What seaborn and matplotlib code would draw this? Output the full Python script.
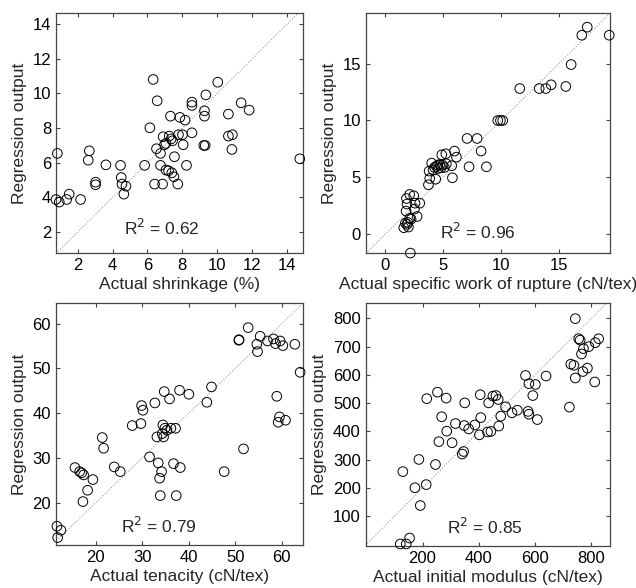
"""Regression output vs actual values for four yarn properties."""

import matplotlib

matplotlib.use("Agg")
import matplotlib.pyplot as plt
import numpy as np
import seaborn as sns


sns.set_style("ticks")
plt.rcParams["font.family"] = ["Liberation Sans", "DejaVu Sans"]
plt.rcParams.update(
    {
        "xtick.direction": "in",
        "ytick.direction": "in",
        "xtick.top": True,
        "ytick.right": True,
        "xtick.major.size": 3,
        "ytick.major.size": 3,
        "axes.linewidth": 0.9,
        "axes.edgecolor": "#444444",
    }
)

# Shrinkage (%)
shrink_actual = [
    0.84, 0.76, 0.95, 1.37, 1.52, 2.17, 2.67, 2.61, 3.03, 3.03, 3.62, 4.46,
    4.50, 4.54, 4.65, 4.77, 5.84, 6.14, 6.33, 6.56, 6.52, 6.41, 6.75, 6.75,
    6.87, 6.90, 6.98, 7.06, 7.06, 7.21, 7.36, 7.32, 7.44, 7.55, 7.52, 7.40,
    7.74, 7.78, 7.86, 8.01, 8.05, 8.16, 8.24, 8.55, 8.55, 8.55, 9.23, 9.31,
    9.27, 9.27, 9.35, 10.03, 10.64, 10.64, 10.87, 10.84, 11.37, 11.83, 14.73,
    7.25,
]
shrink_pred = [
    6.54, 3.88, 3.73, 3.88, 4.19, 3.88, 6.69, 6.15, 4.88, 4.73, 5.88, 5.85,
    5.15, 4.77, 4.19, 4.65, 5.85, 8.02, 10.81, 9.58, 6.81, 4.77, 6.54, 5.85,
    4.77, 7.50, 7.04, 7.12, 5.58, 5.54, 7.38, 8.69, 7.27, 6.35, 5.19, 5.42,
    4.77, 7.62, 8.62, 7.62, 7.04, 8.46, 5.85, 7.73, 9.31, 9.50, 7.00, 7.00,
    8.69, 9.00, 9.92, 10.65, 8.81, 7.54, 7.62, 6.77, 9.46, 9.04, 6.23,
    7.54,
]

# Specific work of rupture (cN/tex)
work_actual = [
    1.59, 1.73, 1.87, 1.93, 1.99, 1.79, 1.82, 1.87, 2.10, 2.16, 2.22, 2.45,
    2.51, 2.56, 2.74, 2.97, 2.10, 3.72, 3.78, 3.83, 4.00, 4.12, 4.24, 4.35,
    4.41, 4.52, 4.58, 4.70, 4.81, 4.93, 4.87, 5.10, 5.22, 5.27, 5.73, 5.79,
    5.97, 6.14, 7.06, 7.23, 7.93, 8.27, 8.73, 9.71, 9.94, 10.14, 11.61, 13.29,
    13.86, 14.32, 15.59, 16.05, 16.97, 17.44, 19.34,
]
work_pred = [
    0.56, 0.97, 0.85, 1.03, 0.62, 2.02, 3.13, 2.64, 3.49, -1.67, 1.32, 3.37,
    2.20, 2.72, 1.55, 2.72, 1.38, 4.34, 5.54, 4.89, 6.24, 5.65, 5.86, 4.83,
    5.95, 6.07, 5.77, 6.12, 5.83, 6.07, 6.97, 5.86, 7.06, 6.18, 6.01, 4.95,
    7.30, 6.77, 8.41, 5.92, 8.41, 7.30, 5.92, 9.99, 9.99, 9.99, 12.80, 12.80,
    12.80, 13.13, 12.98, 14.91, 17.49, 18.20, 17.49,
]

# Tenacity (cN/tex)
ten_actual = [
    11.61, 12.47, 11.76, 15.48, 16.49, 16.92, 17.35, 17.20, 18.21, 19.35, 21.36,
    21.65, 23.94, 25.23, 27.81, 29.68, 29.82, 30.11, 31.54, 32.69, 33.12, 33.41,
    33.70, 34.12, 33.84, 34.41, 34.55, 34.70, 34.84, 35.27, 35.84, 36.13, 36.70,
    37.13, 37.28, 37.99, 38.14, 40.00, 43.87, 44.87, 47.60, 50.75, 51.76, 52.76,
    54.62, 54.77, 55.34, 56.92, 58.21, 58.64, 58.92, 59.64, 59.50, 59.21, 60.22,
    60.79, 62.80, 63.94, 34.26, 50.80,
]
ten_pred = [
    14.71, 13.82, 12.18, 27.82, 26.92, 26.63, 26.18, 20.22, 22.76, 25.14, 34.52,
    32.14, 27.97, 26.92, 37.20, 37.65, 41.67, 40.63, 30.20, 42.26, 34.67, 28.86,
    25.44, 26.92, 21.56, 37.35, 34.67, 44.80, 36.60, 36.16, 43.16, 36.60, 28.70,
    36.60, 21.56, 45.09, 27.82, 44.20, 42.41, 45.84, 26.92, 56.26, 31.99, 59.09,
    55.37, 53.73, 57.15, 56.11, 56.56, 55.52, 43.75, 56.11, 39.14, 37.95, 55.07,
    38.39, 55.37, 49.11, 35.40, 56.40,
]

# Initial modulus (cN/tex)
mod_actual = [
    121, 142, 154, 130, 173, 187, 192, 213, 215, 246, 253, 258, 268, 284, 286,
    305, 317, 341, 346, 348, 350, 364, 386, 405, 407, 402, 431, 435, 443, 450,
    461, 469, 471, 478, 495, 518, 537, 566, 575, 578, 578, 592, 601, 608, 639,
    722, 727, 738, 743, 743, 755, 760, 765, 772, 770, 786, 791, 812, 814, 826,
]
mod_pred = [
    2, 2, 23, 258, 201, 301, 138, 212, 516, 283, 539, 364, 452, 518, 401,
    360, 428, 320, 329, 421, 501, 409, 423, 530, 449, 388, 398, 501, 400, 525,
    527, 513, 419, 454, 487, 466, 475, 598, 471, 461, 569, 527, 566, 442, 596,
    486, 638, 634, 589, 799, 728, 723, 674, 693, 612, 624, 700, 575, 714, 728,
]

panels = [
    (shrink_actual, shrink_pred, "Actual shrinkage (%)", "0.62"),
    (work_actual, work_pred, "Actual specific work of rupture (cN/tex)", "0.96"),
    (ten_actual, ten_pred, "Actual tenacity (cN/tex)", "0.79"),
    (mod_actual, mod_pred, "Actual initial modulus (cN/tex)", "0.85"),
]

# axes geometry and limits
positions = [
    [0.088, 0.570, 0.388, 0.408],
    [0.575, 0.570, 0.384, 0.408],
    [0.088, 0.073, 0.388, 0.411],
    [0.575, 0.072, 0.384, 0.413],
]
xlims = [(0.76, 14.9), (-1.7, 19.4), (11.4, 64.5), (-2, 866)]
ylims = [(0.8, 14.65), (-1.65, 19.45), (10.5, 64.5), (-4, 855)]
xticks = [[2, 4, 6, 8, 10, 12, 14], [0, 5, 10, 15], [20, 30, 40, 50, 60],
          [200, 400, 600, 800]]
yticks = [[2, 4, 6, 8, 10, 12, 14], [0, 5, 10, 15], [20, 30, 40, 50, 60],
          [100, 200, 300, 400, 500, 600, 700, 800]]
text_pos = [(0.43, 0.104), (0.46, 0.087), (0.417, 0.079), (0.488, 0.078)]


def main() -> None:
    fig = plt.figure(figsize=(6.36, 5.88), dpi=100)

    for i, (actual, pred, xlabel, r2) in enumerate(panels):
        ax = fig.add_axes(positions[i])
        lo = min(xlims[i][0], ylims[i][0])
        hi = max(xlims[i][1], ylims[i][1])
        ax.plot([lo, hi], [lo, hi], ":", color="#9a9a9a", linewidth=0.8)
        sns.scatterplot(
            x=np.asarray(actual, dtype=float),
            y=np.asarray(pred, dtype=float),
            ax=ax,
            s=48,
            facecolor="none",
            edgecolor="black",
            linewidth=0.7,
            zorder=3,
            clip_on=False,
        )
        ax.set_xlim(*xlims[i])
        ax.set_ylim(*ylims[i])
        ax.set_xticks(xticks[i])
        ax.set_yticks(yticks[i])
        ax.tick_params(labelsize=12, width=0.8, colors="#444444",
                       labelcolor="black")
        ax.set_xlabel(xlabel, fontsize=12.5, labelpad=3)
        ax.set_ylabel("Regression output", fontsize=12.5, labelpad=4)
        ax.text(text_pos[i][0], text_pos[i][1], f"R$^2$ = {r2}",
                transform=ax.transAxes, ha="center", va="center",
                fontsize=12.5)
        for spine in ax.spines.values():
            spine.set_visible(True)

    fig.savefig("out.png", dpi=100)


if __name__ == "__main__":
    main()
